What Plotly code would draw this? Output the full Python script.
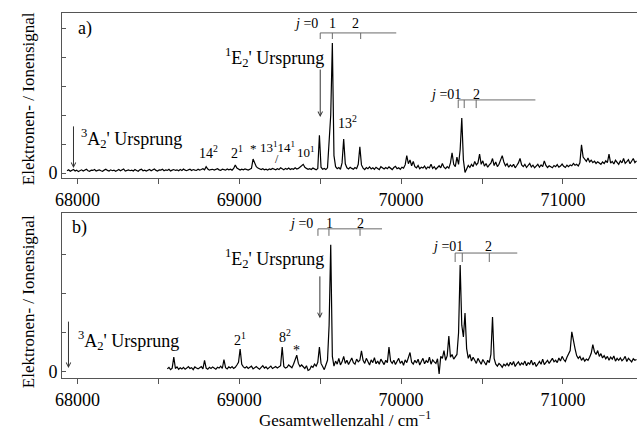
import numpy as np
import plotly.graph_objects as go

# ---------------------------------------------------------------------------
# Spectra: electron / ion signal on a 10 cm-1 grid (total wavenumber)
# ---------------------------------------------------------------------------
a_start = 67935          # first sample of trace a), cm-1
b_start = 68555          # first sample of trace b), cm-1
step = 10                # sample spacing, cm-1

# trace a), one row per 100 cm-1
a_signal = [
    0.08, 0.11, 0.06, 0.09, 0.12, 0.07, 0.10, 0.05, 0.09, 0.11,   # 67935
    0.07, 0.10, 0.13, 0.08, 0.06, 0.10, 0.09, 0.12, 0.07, 0.09,   # 68035
    0.11, 0.08, 0.06, 0.10, 0.13, 0.09, 0.07, 0.11, 0.08, 0.10,   # 68135
    0.06, 0.09, 0.12, 0.08, 0.10, 0.14, 0.07, 0.09, 0.11, 0.08,   # 68235
    0.10, 0.07, 0.12, 0.09, 0.06, 0.11, 0.13, 0.08, 0.10, 0.07,   # 68335
    0.09, 0.12, 0.08, 0.10, 0.14, 0.09, 0.07, 0.11, 0.10, 0.13,   # 68435
    0.08, 0.11, 0.09, 0.13, 0.07, 0.10, 0.12, 0.09, 0.11, 0.08,   # 68535
    0.12, 0.09, 0.14, 0.10, 0.08, 0.11, 0.13, 0.09, 0.12, 0.10,   # 68635
    0.09, 0.13, 0.10, 0.12, 0.15, 0.11, 0.22, 0.14, 0.10, 0.12,   # 68735
    0.13, 0.10, 0.12, 0.15, 0.11, 0.09, 0.13, 0.12, 0.10, 0.14,   # 68835
    0.11, 0.13, 0.10, 0.16, 0.28, 0.17, 0.12, 0.10, 0.13, 0.11,   # 68935
    0.14, 0.12, 0.10, 0.13, 0.16, 0.48, 0.32, 0.22, 0.17, 0.14,   # 69035
    0.12, 0.15, 0.11, 0.13, 0.10, 0.14, 0.12, 0.16, 0.13, 0.11,   # 69135
    0.15, 0.12, 0.18, 0.14, 0.11, 0.16, 0.13, 0.17, 0.12, 0.15,   # 69235
    0.13, 0.18, 0.14, 0.16, 0.22, 0.25, 0.30, 0.20, 0.16, 0.13,   # 69335
    0.15, 0.12, 0.17, 0.14, 0.11, 0.16, 1.30, 0.20, 0.13, 0.16,   # 69435
    0.12, 0.18, 1.00, 2.00, 4.48, 0.60, 0.22, 0.15, 0.19, 0.13,   # 69535
    0.35, 1.17, 0.32, 0.18, 0.14, 0.20, 0.16, 0.13, 0.19, 0.15,   # 69635
    0.30, 0.90, 0.28, 0.17, 0.12, 0.19, 0.15, 0.21, 0.14, 0.18,   # 69735
    0.13, 0.20, 0.16, 0.12, 0.22, 0.17, 0.14, 0.19, 0.15, 0.21,   # 69835
    0.16, 0.12, 0.19, 0.23, 0.15, 0.18, 0.13, 0.20, 0.17, 0.28,   # 69935
    0.60, 0.32, 0.45, 0.25, 0.40, 0.22, 0.18, 0.26, 0.15, 0.20,   # 70035
    0.17, 0.24, 0.14, 0.21, 0.18, 0.30, 0.16, 0.22, 0.13, 0.19,   # 70135
    0.25, 0.18, 0.33, 0.20, 0.15, 0.22, 0.17, 0.35, 0.70, 0.30,   # 70235
    0.22, 0.55, 0.30, 0.80, 1.90, 0.45, 0.02, 0.14, 0.26, 0.19,   # 70335
    0.30, 0.22, 0.40, 0.28, 0.35, 0.65, 0.30, 0.42, 0.24, 0.33,   # 70435
    0.20, 0.28, 0.34, 0.50, 0.26, 0.38, 0.22, 0.30, 0.45, 0.60,   # 70535
    0.38, 0.25, 0.32, 0.20, 0.28, 0.22, 0.30, 0.18, 0.26, 0.35,   # 70635
    0.50, 0.28, 0.22, 0.30, 0.19, 0.26, 0.33, 0.21, 0.27, 0.18,   # 70735
    0.24, 0.30, 0.20, 0.28, 0.22, 0.42, 0.26, 0.19, 0.25, 0.21,   # 70835
    0.18, 0.26, 0.22, 0.29, 0.20, 0.24, 0.31, 0.23, 0.19, 0.27,   # 70935
    0.22, 0.28, 0.25, 0.33, 0.27, 0.30, 0.24, 0.35, 0.97, 0.55,   # 71035
    0.48, 0.40, 0.52, 0.38, 0.44, 0.36, 0.41, 0.33, 0.39, 0.35,   # 71135
    0.30, 0.38, 0.33, 0.42, 0.36, 0.65, 0.34, 0.40, 0.31, 0.44,   # 71235
    0.36, 0.30, 0.42, 0.35, 0.50, 0.33, 0.39, 0.46, 0.32, 0.40,   # 71335
    0.50, 0.36, 0.42,                                             # 71435
]

# trace b), one row per 100 cm-1
b_signal = [
    0.08, 0.12, 0.06, 0.10, 0.38, 0.09, 0.13, 0.07, 0.11, 0.08,   # 68555
    0.12, 0.07, 0.10, 0.14, 0.09, 0.11, 0.06, 0.13, 0.10, 0.08,   # 68655
    0.11, 0.14, 0.08, 0.30, 0.10, 0.07, 0.12, 0.09, 0.13, 0.10,   # 68755
    0.07, 0.12, 0.10, 0.15, 0.09, 0.32, 0.11, 0.08, 0.13, 0.10,   # 68855
    0.14, 0.09, 0.12, 0.18, 0.25, 0.59, 0.20, 0.13, 0.10, 0.14,   # 68955
    0.09, 0.12, 0.15, 0.08, 0.11, 0.14, 0.10, 0.07, 0.12, 0.16,   # 69055
    0.10, 0.13, 0.08, 0.12, 0.15, 0.09, 0.11, 0.14, 0.10, 0.13,   # 69155
    0.16, 0.64, 0.14, 0.10, 0.12, 0.18, 0.15, 0.11, 0.20, 0.35,   # 69255
    0.43, 0.22, 0.14, 0.18, 0.12, 0.09, 0.16, 0.04, 0.06, 0.15,   # 69355
    0.12, 0.20, 0.15, 0.25, 0.64, 0.22, 0.14, 0.06, 0.18, 0.30,   # 69455
    1.20, 3.26, 0.40, 0.15, 0.28, 0.20, 0.35, 0.18, 0.26, 0.40,   # 69555
    0.22, 0.30, 0.19, 0.27, 0.36, 0.24, 0.20, 0.33, 0.26, 0.30,   # 69655
    0.54, 0.30, 0.22, 0.35, 0.26, 0.18, 0.31, 0.24, 0.37, 0.21,   # 69755
    0.28, 0.20, 0.33, 0.25, 0.19, 0.30, 0.24, 0.64, 0.28, 0.22,   # 69855
    0.30, 0.19, 0.26, 0.35, 0.22, 0.28, 0.17, 0.31, 0.24, 0.36,   # 69955
    0.50, 0.25, 0.20, 0.30, 0.23, 0.33, 0.18, 0.27, 0.35, 0.21,   # 70055
    0.29, 0.24, 0.38, 0.20, 0.31, 0.26, 0.22, 0.34, -0.05, 0.40,  # 70155
    0.35, 0.55, 0.30, 0.42, 0.92, 0.38, 0.45, 0.33, 0.40, 0.45,   # 70255
    1.00, 2.74, 1.20, 0.90, 1.51, 0.60, 0.35, 0.45, 0.28, 0.38,   # 70355
    0.30, 0.22, 0.35, 0.27, 0.20, 0.32, 0.25, 0.18, 0.30, 0.24,   # 70455
    0.45, 1.41, 0.35, 0.20, 0.15, 0.22, 0.18, 0.12, 0.20, 0.16,   # 70555
    0.22, 0.15, 0.25, 0.18, 0.27, 0.14, 0.21, 0.26, 0.17, 0.23,   # 70655
    0.19, 0.28, 0.16, 0.24, 0.20, 0.30, 0.18, 0.25, 0.14, 0.22,   # 70755
    0.27, 0.20, 0.33, 0.19, 0.25, 0.30, 0.22, 0.28, 0.35, 0.26,   # 70855
    0.30, 0.24, 0.36, 0.28, 0.40, 0.32, 0.27, 0.38, 0.45, 0.55,   # 70955
    1.03, 0.75, 0.60, 0.42, 0.35, 0.40, 0.30, 0.36, 0.28, 0.33,   # 71055
    0.30, 0.38, 0.48, 0.70, 0.52, 0.45, 0.55, 0.40, 0.47, 0.36,   # 71155
    0.42, 0.34, 0.40, 0.30, 0.38, 0.33, 0.41, 0.28, 0.35, 0.30,   # 71255
    0.36, 0.29, 0.33, 0.40, 0.27, 0.35, 0.31, 0.26, 0.34, 0.30,   # 71355
    0.32,                                                         # 71455
]

# rotational progressions (j = 0, 1, 2) and the end of each bracket, cm-1
comb_a_low = [69500, 69575, 69750]
comb_a_low_end = 69970
comb_a_high = [70353, 70390, 70464]
comb_a_high_end = 70830
comb_b_low = [69486, 69554, 69746]
comb_b_low_end = 69882
comb_b_high = [70334, 70378, 70545]
comb_b_high_end = 70718

x_ticks = [68000, 68500, 69000, 69500, 70000, 70500, 71000]
x_ticktext = ["68000", "", "69000", "", "70000", "", "71000"]

a_x = a_start + step * np.arange(len(a_signal))
b_x = b_start + step * np.arange(len(b_signal))

SERIF = "Liberation Serif, Times New Roman, DejaVu Serif, serif"
FRAME = "#555555"
COMB = "#6a6a6a"

fig = go.Figure()
fig.add_trace(go.Scatter(x=a_x, y=a_signal, mode="lines", xaxis="x", yaxis="y",
                         line=dict(color="black", width=1.2), showlegend=False))
fig.add_trace(go.Scatter(x=b_x, y=b_signal, mode="lines", xaxis="x2", yaxis="y2",
                         line=dict(color="black", width=1.2), showlegend=False))

xaxis_common = dict(range=[67904, 71458], tickmode="array", tickvals=x_ticks,
                    ticktext=x_ticktext, ticks="outside", ticklen=5, tickwidth=1,
                    tickcolor=FRAME, showline=True, linecolor=FRAME, linewidth=1,
                    mirror=True, showgrid=False, zeroline=False,
                    tickfont=dict(family=SERIF, size=18, color="black"))
yaxis_common = dict(ticks="inside", ticklen=4, tickwidth=1, tickcolor=FRAME,
                    showline=True, linecolor=FRAME, linewidth=1, showgrid=False,
                    zeroline=False, tickmode="array",
                    tickfont=dict(family=SERIF, size=18, color="black"))

fig.update_layout(
    width=637, height=435,
    margin=dict(l=62, r=0, t=13, b=57),
    paper_bgcolor="white", plot_bgcolor="white",
    font=dict(family=SERIF, color="black"),
    xaxis=dict(**xaxis_common, anchor="y"),
    yaxis=dict(**yaxis_common, domain=[0.5479, 1.0], range=[-0.172, 5.517],
               tickvals=[0, 1, 2, 3, 4, 5], ticktext=["0", "", "", "", "", ""],
               anchor="x"),
    xaxis2=dict(**xaxis_common, anchor="y2"),
    yaxis2=dict(**yaxis_common, domain=[0.0, 0.4521], range=[-0.154, 4.077],
                tickvals=[0, 1, 2, 3], ticktext=["0", "", "", ""], anchor="x2"),
)

# bracket combs marking the rotational levels
shapes = []
def comb(xr, yr, ticks, end, y_line, y_tick):
    shapes.append(dict(type="line", xref=xr, yref=yr, x0=ticks[0], x1=end,
                       y0=y_line, y1=y_line, line=dict(color=COMB, width=1)))
    for t in ticks:
        shapes.append(dict(type="line", xref=xr, yref=yr, x0=t, x1=t,
                           y0=y_line, y1=y_tick, line=dict(color=COMB, width=1)))

comb("x", "y", comb_a_low, comb_a_low_end, 4.83, 4.62)
comb("x", "y", comb_a_high, comb_a_high_end, 2.52, 2.24)
comb("x2", "y2", comb_b_low, comb_b_low_end, 3.67, 3.49)
comb("x2", "y2", comb_b_high, comb_b_high_end, 3.05, 2.82)
fig.update_layout(shapes=shapes)

ann = []
def label(xr, yr, x, y, text, size=18, xanchor="center"):
    ann.append(dict(xref=xr, yref=yr, x=x, y=y, text=text, showarrow=False,
                    xanchor=xanchor, yanchor="middle",
                    font=dict(family=SERIF, size=size, color="black")))

def arrow(xr, yr, x, y_from, y_to):
    ann.append(dict(xref=xr, yref=yr, axref=xr, ayref=yr, x=x, y=y_to, ax=x,
                    ay=y_from, text="", showarrow=True, arrowhead=5,
                    arrowsize=0.9, arrowwidth=1, arrowcolor="#333333"))

E_ORIGIN = "<sup>1</sup>E<sub>2</sub>' Ursprung"
A_ORIGIN = "<sup>3</sup>A<sub>2</sub>' Ursprung"

# panel a)
label("x", "y", 68046, 5.0, "a)")
label("x", "y", 69220, 4.0, E_ORIGIN)
label("x", "y", 68334, 1.2, A_ORIGIN)
arrow("x", "y", 69500, 3.62, 1.93)
arrow("x", "y", 67975, 1.66, 0.17)
label("x", "y", 68811, 0.72, "14<sup>2</sup>", 14)
label("x", "y", 68985, 0.72, "2<sup>1</sup>", 14)
label("x", "y", 69090, 0.86, "*", 13)
label("x", "y", 69236, 0.90, "13<sup>1</sup>14<sup>1</sup>", 13)
label("x", "y", 69230, 0.50, "/", 12)
label("x", "y", 69410, 0.72, "10<sup>1</sup>", 13)
label("x", "y", 69666, 1.76, "13<sup>2</sup>", 14)
label("x", "y", 69500, 5.17, "<i>j</i> =0", 14, "right")
label("x", "y", 69573, 5.17, "1", 14)
label("x", "y", 69721, 5.17, "2", 14)
label("x", "y", 70384, 2.72, "<i>j</i> =01", 14, "right")
label("x", "y", 70464, 2.72, "2", 14)

# panel b)
label("x2", "y2", 68015, 3.70, "b)")
label("x2", "y2", 69220, 2.90, E_ORIGIN)
label("x2", "y2", 68316, 0.82, A_ORIGIN)
arrow("x2", "y2", 69498, 2.49, 1.38)
arrow("x2", "y2", 67944, 1.33, 0.10)
label("x2", "y2", 69003, 0.85, "2<sup>1</sup>", 14)
label("x2", "y2", 69282, 0.92, "8<sup>2</sup>", 14)
label("x2", "y2", 69356, 0.56, "*", 14)
label("x2", "y2", 69470, 3.82, "<i>j</i> =0", 14, "right")
label("x2", "y2", 69560, 3.82, "1", 14)
label("x2", "y2", 69746, 3.82, "2", 14)
label("x2", "y2", 70392, 3.23, "<i>j</i> =01", 14, "right")
label("x2", "y2", 70539, 3.23, "2", 14)

# axis titles
for yc in (0.764, 0.208):
    ann.append(dict(xref="paper", yref="paper", x=-0.059, y=yc,
                    text="Elektronen- / Ionensignal", textangle=-90,
                    showarrow=False, xanchor="center", yanchor="middle",
                    font=dict(family=SERIF, size=17, color="black")))
ann.append(dict(xref="paper", yref="paper", x=0.492, y=-0.112,
                text="Gesamtwellenzahl / cm<sup>\u22121</sup>", showarrow=False,
                xanchor="center", yanchor="middle",
                font=dict(family=SERIF, size=17, color="black")))

fig.update_layout(annotations=ann)
fig.write_html("out.html")
